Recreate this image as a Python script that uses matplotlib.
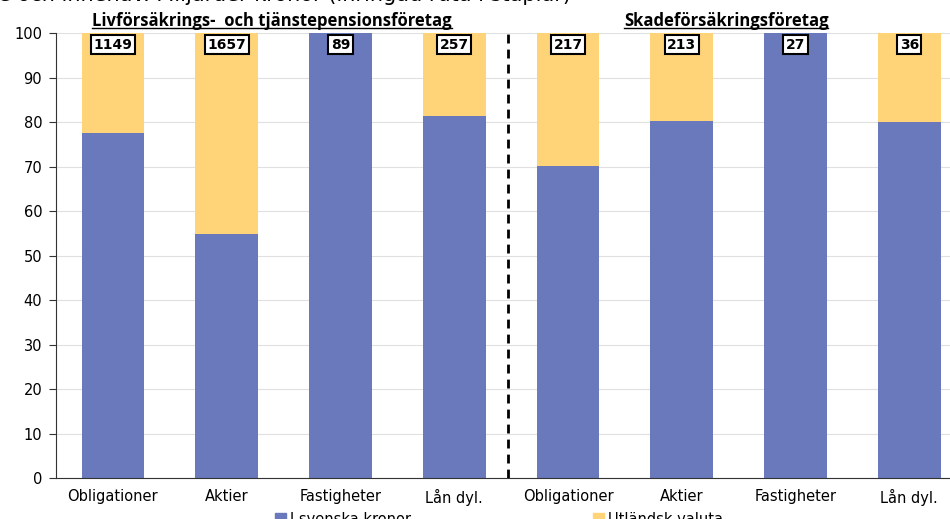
import numpy as np
import matplotlib
matplotlib.use('Agg')
import matplotlib.pyplot as plt
from matplotlib.patches import Patch

# Andel i svenska kronor resp. utländsk valuta (procent) och innehav i mdkr
categories = ['Obligationer', 'Aktier', 'Fastigheter', 'Lån dyl.',
              'Obligationer', 'Aktier', 'Fastigheter', 'Lån dyl.']
sek_share = [77.5, 54.8, 100.0, 81.4, 70.1, 80.2, 100.0, 80.0]
foreign_share = [100 - v for v in sek_share]
holdings = [1149, 1657, 89, 257, 217, 213, 27, 36]
group_titles = ['Livförsäkrings-  och tjänstepensionsföretag', 'Skadeförsäkringsföretag']
group_centers = [1.4, 5.39]
series_names = ['I svenska kronor', 'Utländsk valuta']

blue = '#6979BC'
yellow = '#FFD479'

fig = plt.figure(figsize=(9.5, 5.19), dpi=100)
ax = fig.add_axes([0.059, 0.079, 0.958, 0.857])

x = np.arange(len(categories))
ax.bar(x, sek_share, width=0.55, color=blue, zorder=2)
ax.bar(x, foreign_share, width=0.55, bottom=sek_share, color=yellow, zorder=2)

for xi, h in zip(x, holdings):
    ax.text(xi, 97.4, str(h), ha='center', va='center', fontsize=10,
            fontweight='bold', zorder=4,
            bbox=dict(boxstyle='square,pad=0.18', fc='white', ec='black', lw=1.5))

ax.axvline(3.47, ymin=0, ymax=1, color='black', lw=2, ls=(0, (3.2, 2.2)), zorder=3)

# gruppernas rubriker, understrukna
titles = []
for xc, t in zip(group_centers, group_titles):
    titles.append(ax.text(xc, 100.7, t, ha='center', va='bottom', fontsize=12,
                          fontweight='bold', family='Open Sans', clip_on=False))

ax.set_xlim(-0.5, 7.5)
ax.set_ylim(0, 100)
ax.set_yticks(range(0, 101, 10))
ax.set_xticks(x)
ax.set_xticklabels(categories)
ax.tick_params(axis='x', length=0, labelsize=10.5, pad=8)
ax.tick_params(axis='y', length=5, labelsize=10.5, pad=5, color='#333333')
ax.grid(axis='y', color='#E0E0E0', lw=0.8, zorder=0)
for side in ['top', 'right']:
    ax.spines[side].set_visible(False)
ax.spines['left'].set_color('#333333')
ax.spines['bottom'].set_color('#333333')

fig.text(-0.002, 1.01, 'e och innehav. Miljarder kronor (inringad ruta i staplar)',
         ha='left', va='center', fontsize=15)

handles = [Patch(color=blue), Patch(color=yellow)]
fig.legend(handles, series_names, loc='center', bbox_to_anchor=(0.5255, 0.0),
           ncol=2, frameon=False, fontsize=10.5, handlelength=0.7, handleheight=0.7,
           columnspacing=12.5, handletextpad=0.3)

fig.canvas.draw()
renderer = fig.canvas.get_renderer()
inv = ax.transData.inverted()
for t in titles:
    bb = t.get_window_extent(renderer)
    (x0, y0), (x1, _) = inv.transform([(bb.x0, bb.y0), (bb.x1, bb.y0)])
    ax.plot([x0, x1], [y0 + 0.4, y0 + 0.4], color='black', lw=1.0, clip_on=False)

plt.savefig('out.png', dpi=100)
